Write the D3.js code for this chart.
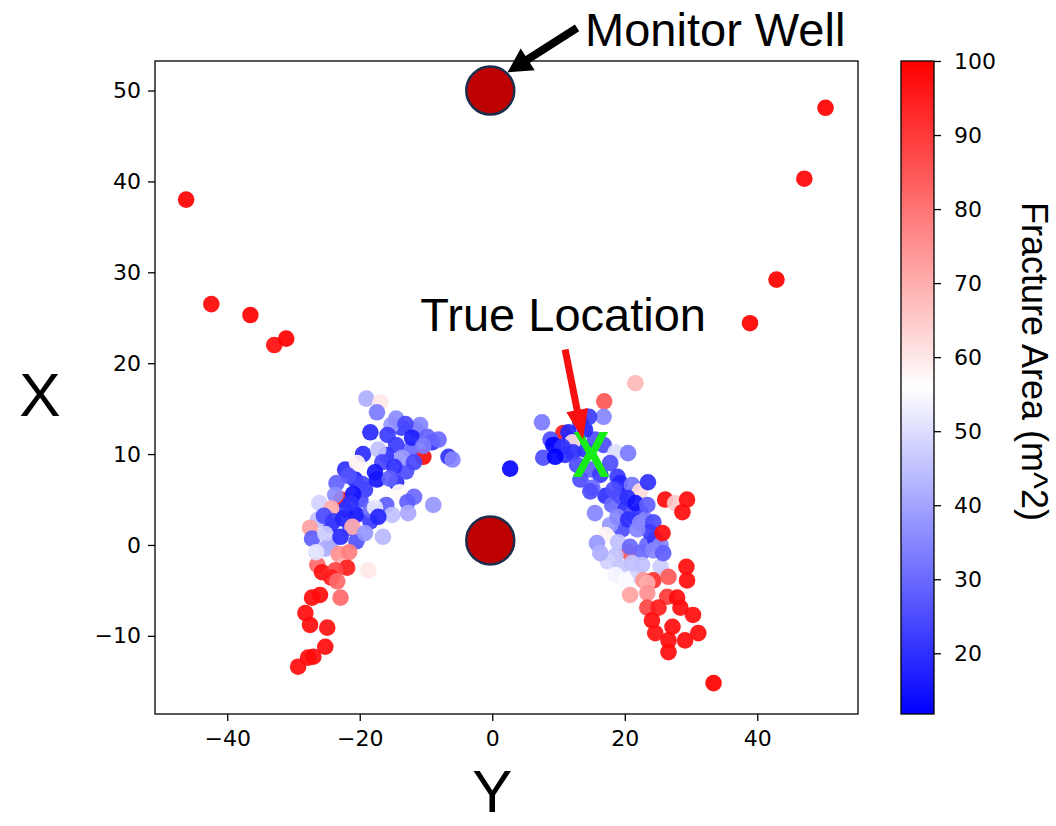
<!DOCTYPE html>
<html>
<head>
<meta charset="utf-8">
<script src="https://cdn.jsdelivr.net/npm/d3@7"></script>
<style>
  body { margin: 0; background: #ffffff; }
  svg { display: block; }
</style>
</head>
<body>
<svg id="chart" width="1056" height="826"></svg>
<script>
// Microseismic event locations: horizontal = Y, vertical = X, colour = fracture area (m^2)
const eventY = [
  -10.4, -22.8, 10.7, 20.5,
  -46.2, -42.4, -36.5, -32.9, -31.1, 50.3, 47.1, 42.9, 38.9, 33.4, 2.7,
  -22.2, -20.7, -19.2, -19.9, -22.2, -20.5, -18.4, -16.0, -14.5, -13.0, -12.4, -14.5, -16.0, -11.5, -10.9, -13.7, -15.2, -9.1, -8.1, -21.4, -24.4, -26.3, -18.4, -15.1, -20.5, -24.4, -26.4,
  -19.0, -16.9, -17.4, -14.5, -13.1, -18.4, -15.8, -12.1, -9.8, -10.4,
  -6.6, -6.0, -19.5, -17.2, -20.4, -16.6, -13.6, -11.8, -14.8, -17.7, -21.7, -23.5, -19.6, -17.4, -15.5, -14.0, -11.8, -12.8, -8.9, -12.7, -17.7, -17.2, -21.0, -23.7, -21.4,
  -26.1, -24.3, -25.4, -24.0, -22.5, -21.1, -19.2, -16.5, -27.5, -27.2, -25.2, -22.9, -25.2, -26.6, -23.2, -21.6, -22.6, -21.9, -25.7, -18.7,
  -23.7,
  -24.3, -23.4, -27.2, -26.0, -22.9, -28.2, -27.5, -24.9, -25.2, -27.0, -27.8, -29.3,
  11.8, 11.0, 14.0, 15.5, 14.8, 16.3, 17.1, 18.1, 19.3, 20.1, 21.1, 22.3, 23.1, 19.6, 17.8, 18.6, 17.4, 23.4, 24.6, 25.4, 19.3, 21.9, 25.4, 18.6, 8.8, 14.0,
  21.6, 16.9, 7.5, 16.8, 14.6, 13.3,
  11.5, 12.1, 9.2, 10.6, 7.7, 9.5, 12.2, 12.8, 16.8, 18.6, 20.5,
  17.8, 13.3, 15.1, 18.9, 19.3, 18.3, 21.1, 22.3, 23.5, 26.1, 27.6, 29.4, 28.7, 14.8, 20.4, 21.6, 23.4, 15.5, 18.9, 20.5, 22.3, 24.3, 23.8, 25.7, 21.9, 17.1, 15.8, 19.0, 20.8, 22.6, 24.3, 25.8,
  16.3, 21.1, 22.6, 20.1, 22.8, 24.3, 26.6, 29.3, 29.4, 20.8, 23.4, 23.4, 26.4, 27.9, 23.4, 25.1, 28.4, 30.3, 24.1, 27.2, 31.1, 24.6, 26.6, 29.1, 26.6
];
const eventX = [
  9.7, 5.0, 12.3, -0.8,
  38.0, 26.5, 25.3, 22.0, 22.7, 48.1, 40.3, 29.2, 24.4, -15.2, 8.4,
  8.3, 7.2, 6.1, 5.0, 3.9, 3.3, 2.6, 4.4, 6.9, 8.1, 10.5, 11.0, 9.9, 12.7, 13.2, 12.9, 13.2, 11.3, 11.6, 1.9, 2.2, 2.8, 3.9, 3.3, 0.4, 0.0, -2.2,
  16.1, 15.7, 14.6, 13.9, 13.3, 12.4, 12.1, 11.8, 11.9, 10.9,
  9.7, 9.4, 10.0, 10.5, 9.0, 9.1, 9.6, 9.1, 8.6, 8.0, 7.6, 6.8, 6.7, 7.2, 7.3, 5.8, 5.3, 4.7, 4.4, 3.5, 4.1, 3.1, 5.6, 5.5, 4.6,
  4.6, 4.0, 3.2, 2.6, 2.9, 2.0, 1.3, 0.9, 1.9, 0.7, 1.2, 0.9, -0.4, -0.8, -1.0, -0.8, -2.4, -2.5, -3.0, -2.8,
  -2.8,
  -3.6, -4.0, -5.8, -5.5, -5.8, -7.5, -8.8, -9.1, -11.2, -12.3, -12.4, -13.4,
  11.5, 9.9, 10.5, 11.6, 8.3, 7.7, 5.4, 4.4, 5.4, 3.9, 3.3, 3.6, 2.8, 1.7, 2.2, -1.2, -1.8, 0.0, 0.6, 0.0, -2.5, -3.3, -2.4, -3.3, 11.6, 12.7,
  17.8, 15.8, 13.5, 14.1, 14.1, 13.5,
  12.4, 11.3, 11.0, 10.8, 9.6, 9.7, 10.2, 8.8, 11.0, 10.2, 10.1,
  9.0, 7.2, 6.3, 7.5, 6.8, 6.1, 6.6, 5.9, 6.9, 5.0, 4.6, 5.0, 3.6, 5.9, 5.2, 4.6, 4.4, 3.5, 3.1, 2.8, 2.4, 2.5, 1.4, 1.3, 1.7, 1.1, 0.2, 0.3, -0.2, -0.8, -0.6, -0.9,
  -0.9, -2.0, -2.2, -3.9, -3.9, -3.9, -3.5, -2.4, -3.9, -5.5, -4.2, -5.3, -5.7, -5.8, -6.9, -6.9, -6.9, -7.7, -8.3, -9.0, -9.7, -9.7, -10.5, -10.5, -11.8
];
const fractureArea = [
  98, 95, 95, 85,
  100, 99, 100, 98, 100, 100, 99, 100, 100, 100, 13,
  20, 18, 22, 25, 20, 15, 22, 28, 20, 25, 30, 22, 20, 28, 35, 22, 38, 20, 30, 25, 18, 45, 30, 45, 26, 40, 82,
  42, 60, 33, 36, 24, 19, 22, 17, 29, 33,
  20, 35, 19, 45, 58, 24, 38, 24, 20, 16, 26, 29, 24, 15, 28, 57, 30, 28, 38, 41, 52, 18, 15, 36, 20,
  48, 70, 25, 22, 18, 70, 38, 44, 72, 28, 47, 19, 42, 51, 75, 78, 68, 95, 97, 60,
  88,
  95, 82, 98, 98, 82, 98, 98, 97, 98, 98, 98, 98,
  15, 20, 20, 25, 28, 22, 20, 30, 25, 20, 28, 22, 35, 25, 38, 45, 48, 30, 20, 35, 46, 48, 47, 54, 25, 18,
  68, 85, 33, 35, 22, 20,
  18, 62, 12, 20, 25, 12, 20, 25, 25, 50, 33,
  25, 25, 30, 22, 18, 25, 32, 62, 20, 98, 65, 98, 98, 25, 20, 15, 28, 35, 35, 20, 35, 25, 22, 98, 35, 58, 38, 45, 30, 30, 35, 28,
  42, 45, 45, 55, 75, 92, 85, 98, 98, 72, 70, 75, 90, 98, 88, 95, 98, 98, 98, 98, 98, 97, 98, 98, 98
];

// Monitor wells and the true source location
const wellY = [-0.3, -0.3];
const wellX = [50.0, 0.5];
const trueY = 14.9;
const trueX = 10.0;

// Axis extents and ticks
const yRange = [-50.9, 55.2];
const xRange = [-18.6, 53.25];
const yTicks = [-40, -20, 0, 20, 40];
const xTicks = [-10, 0, 10, 20, 30, 40, 50];
const areaRange = [11.8, 100];
const areaTicks = [20, 30, 40, 50, 60, 70, 80, 90, 100];

const svg = d3.select("#chart");
const plot = { left: 155, right: 858, top: 61, bottom: 714 };
const cbar = { left: 901, right: 934 };

const sx = d3.scaleLinear().domain(yRange).range([plot.left, plot.right]);
const sy = d3.scaleLinear().domain(xRange).range([plot.bottom, plot.top]);

// blue-white-red diverging map
function bwr(t) {
  t = Math.max(0, Math.min(1, t));
  if (t < 0.5) {
    const a = 2 * t;
    return d3.rgb(255 * a, 255 * a, 255).formatHex();
  }
  const b = 2 - 2 * t;
  return d3.rgb(255, 255 * b, 255 * b).formatHex();
}
const color = d3.scaleSequential(bwr).domain(areaRange).clamp(true);

const minus = v => (v < 0 ? "\u2212" + Math.abs(v) : String(v));
const tickFont = "'DejaVu Sans', sans-serif";
const textFont = "'Liberation Sans', Arial, sans-serif";

// clip to plotting area
svg.append("defs").append("clipPath").attr("id", "plotClip")
  .append("rect")
  .attr("x", plot.left).attr("y", plot.top)
  .attr("width", plot.right - plot.left).attr("height", plot.bottom - plot.top);

// scatter of events
const events = d3.range(fractureArea.length).map(i => ({ y: eventY[i], x: eventX[i], a: fractureArea[i] }));
svg.append("g").attr("clip-path", "url(#plotClip)")
  .selectAll("circle.event").data(events).join("circle")
  .attr("class", "event")
  .attr("cx", d => sx(d.y))
  .attr("cy", d => sy(d.x))
  .attr("r", 8.3)
  .attr("fill", d => color(d.a))
  .attr("fill-opacity", 0.92);

// monitor wells
svg.append("g").selectAll("circle.well").data(d3.range(wellY.length)).join("circle")
  .attr("class", "well")
  .attr("cx", i => sx(wellY[i]))
  .attr("cy", i => sy(wellX[i]))
  .attr("r", 24)
  .attr("fill", "#bd0000")
  .attr("stroke", "#1f2d4d")
  .attr("stroke-width", 2.5);

// frame
svg.append("rect")
  .attr("x", plot.left).attr("y", plot.top)
  .attr("width", plot.right - plot.left).attr("height", plot.bottom - plot.top)
  .attr("fill", "none").attr("stroke", "#000").attr("stroke-width", 1.3);

// axes
const gx = svg.append("g").attr("transform", `translate(0,${plot.bottom})`)
  .call(d3.axisBottom(sx).tickValues(yTicks).tickSize(7).tickPadding(9).tickFormat(minus));
const gy = svg.append("g").attr("transform", `translate(${plot.left},0)`)
  .call(d3.axisLeft(sy).tickValues(xTicks).tickSize(7).tickPadding(7).tickFormat(minus));
[gx, gy].forEach(g => {
  g.select(".domain").remove();
  g.selectAll(".tick line").attr("stroke", "#000").attr("stroke-width", 1.3);
  g.selectAll(".tick text").attr("fill", "#000").style("font-family", tickFont).style("font-size", "22px");
});

// colour bar
const sc = d3.scaleLinear().domain(areaRange).range([plot.bottom, plot.top]);
const grad = svg.select("defs").append("linearGradient")
  .attr("id", "areaGrad").attr("x1", 0).attr("y1", 1).attr("x2", 0).attr("y2", 0);
d3.range(0, 1.0001, 0.05).forEach(t => {
  grad.append("stop").attr("offset", t).attr("stop-color", bwr(t));
});
svg.append("rect")
  .attr("x", cbar.left).attr("y", sc(areaRange[1]))
  .attr("width", cbar.right - cbar.left).attr("height", sc(areaRange[0]) - sc(areaRange[1]))
  .attr("fill", "url(#areaGrad)")
  .attr("stroke", "#000").attr("stroke-width", 1.3);
const gc = svg.append("g").attr("transform", `translate(${cbar.right},0)`)
  .call(d3.axisRight(sc).tickValues(areaTicks).tickSize(7).tickPadding(13));
gc.select(".domain").remove();
gc.selectAll(".tick line").attr("stroke", "#000").attr("stroke-width", 1.3);
gc.selectAll(".tick text").attr("fill", "#000").style("font-family", tickFont).style("font-size", "22px");

// axis titles
svg.append("text").text("Y")
  .attr("x", sx(0)).attr("y", 812).attr("text-anchor", "middle")
  .style("font-family", textFont).style("font-size", "60px").attr("fill", "#000");
svg.append("text").text("X")
  .attr("x", 40).attr("y", 416).attr("text-anchor", "middle")
  .style("font-family", textFont).style("font-size", "62px").attr("fill", "#000");
svg.append("text").text("Fracture Area (m^2)")
  .attr("transform", `translate(1022,${(plot.top + plot.bottom) / 2 - 26}) rotate(90)`)
  .attr("text-anchor", "middle")
  .style("font-family", textFont).style("font-size", "36px").attr("fill", "#000");

// arrow helper
function arrow(x0, y0, x1, y1, shaftW, headW, headL) {
  const dx = x1 - x0, dy = y1 - y0, L = Math.hypot(dx, dy);
  const ux = dx / L, uy = dy / L, px = -uy, py = ux;
  const bx = x1 - ux * headL, by = y1 - uy * headL;
  const pts = [
    [x0 + px * shaftW / 2, y0 + py * shaftW / 2],
    [bx + px * shaftW / 2, by + py * shaftW / 2],
    [bx + px * headW / 2, by + py * headW / 2],
    [x1, y1],
    [bx - px * headW / 2, by - py * headW / 2],
    [bx - px * shaftW / 2, by - py * shaftW / 2],
    [x0 - px * shaftW / 2, y0 - py * shaftW / 2]
  ];
  return "M" + pts.map(p => p.join(",")).join("L") + "Z";
}

// true location marker
svg.append("text").text("X")
  .attr("x", sx(trueY)).attr("y", sy(trueX) + 23)
  .attr("text-anchor", "middle")
  .attr("transform", `translate(${sx(trueY)},0) scale(0.88,1) translate(${-sx(trueY)},0)`)
  .style("font-family", textFont).style("font-size", "64px").style("font-weight", "bold")
  .attr("fill", "#18ec18");

// annotation: monitor well
const mwTip = [sx(2.3), sy(52.0)], mwTail = [sx(12.8), sy(56.9)];
svg.append("path").attr("d", arrow(mwTail[0], mwTail[1], mwTip[0], mwTip[1], 8, 26, 24)).attr("fill", "#000");
svg.append("text").text("Monitor Well")
  .attr("x", mwTail[0] + 8).attr("y", mwTail[1] + 18)
  .style("font-family", textFont).style("font-size", "47px").attr("fill", "#000");

// annotation: true location
const tlTip = [sx(13.7), sy(11.6)], tlTail = [sx(11.0), sy(21.5)];
svg.append("path").attr("d", arrow(tlTail[0], tlTail[1], tlTip[0], tlTip[1], 7, 22, 30)).attr("fill", "#f81010");
svg.append("text").text("True Location")
  .attr("x", tlTail[0] - 2).attr("y", tlTail[1] - 19)
  .attr("text-anchor", "middle")
  .style("font-family", textFont).style("font-size", "47px").attr("fill", "#000");
</script>
</body>
</html>
